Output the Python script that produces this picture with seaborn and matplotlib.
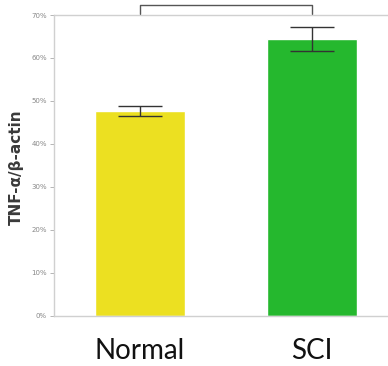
import numpy as np
import pandas as pd
import seaborn as sns
import matplotlib.pyplot as plt

# Values (percent)
groups = ["Normal", "SCI"]
ratio = [47.7, 64.4]
err = [1.2, 2.8]
bar_colors = ["#ECE021", "#25B82E"]
y_ticks = [0, 10, 20, 30, 40, 50, 60, 70]

df = pd.DataFrame({"group": groups, "ratio": ratio})

sns.set_style("white")
fig = plt.figure(figsize=(3.88, 3.66), dpi=100)
ax = fig.add_axes([0.139, 0.137, 0.861, 0.822])

sns.barplot(data=df, x="group", y="ratio", hue="group", palette=bar_colors,
            width=0.52, legend=False, ax=ax, saturation=1)
ax.errorbar(range(len(groups)), ratio, yerr=err, fmt="none",
            ecolor="#333333", elinewidth=1, capsize=15.5, capthick=1)

ax.set_ylim(0, 70)
ax.set_xlim(-0.5, 1.44)
ax.set_yticks(y_ticks)
ax.set_yticklabels([f"{t}%" for t in y_ticks], fontsize=5, color="#888888")
ax.tick_params(axis="y", length=3, width=0.6, color="#aaaaaa", pad=2, left=True)
ax.tick_params(axis="x", length=0, pad=16)
ax.set_xticks(range(len(groups)))
ax.set_xticklabels(groups, fontsize=20, family="Lato", color="#111111")
ax.set_xlabel("")
ax.set_ylabel("TNF-α/β-actin", fontsize=11, fontweight="bold", color="#3a3a3a")
ax.yaxis.set_label_coords(-0.09, 0.495)

for s in ["left", "bottom", "top"]:
    ax.spines[s].set_color("#d0d0d0")
    ax.spines[s].set_linewidth(1)
ax.spines["right"].set_visible(False)

# significance bracket
by = [70.2, 72.4, 72.4, 70.2]
ax.plot([0, 0, 1, 1], by, color="#555555", lw=1, clip_on=False)

fig.savefig("out.png", dpi=100)
